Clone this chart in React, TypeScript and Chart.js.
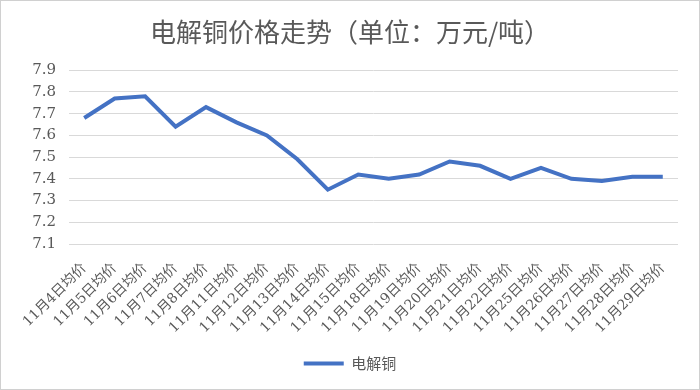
import React, { useEffect, useRef } from "react";
import { Chart, registerables } from "chart.js";

Chart.register(...registerables);

const categories = [
  "11月4日均价", "11月5日均价", "11月6日均价", "11月7日均价", "11月8日均价",
  "11月11日均价", "11月12日均价", "11月13日均价", "11月14日均价", "11月15日均价",
  "11月18日均价", "11月19日均价", "11月20日均价", "11月21日均价", "11月22日均价",
  "11月25日均价", "11月26日均价", "11月27日均价", "11月28日均价", "11月29日均价",
];
const prices = [
  7.68, 7.77, 7.78, 7.64, 7.73, 7.66, 7.60, 7.49, 7.35, 7.42,
  7.40, 7.42, 7.48, 7.46, 7.40, 7.45, 7.40, 7.39, 7.41, 7.41,
];
const seriesName = "电解铜";
const titleText = "电解铜价格走势（单位：万元/吨）";
const yMin = 7.1;
const yMax = 7.9;
const yStep = 0.1;

const FONT = "'DejaVu Serif', 'Noto Sans CJK SC', serif";
const TEXT = "#595959";

export default function App() {
  const ref = useRef<HTMLCanvasElement | null>(null);
  useEffect(() => {
    document.body.style.margin = "0";
    if (!ref.current) return;
    const chart = new Chart(ref.current, {
      type: "line",
      data: {
        labels: categories,
        datasets: [
          {
            label: seriesName,
            data: prices,
            borderColor: "#4472C4",
            backgroundColor: "#4472C4",
            borderWidth: 4,
            pointRadius: 0,
            pointStyle: "line",
            tension: 0,
          },
        ],
      },
      options: {
        responsive: false,
        animation: false,
        layout: { padding: { left: 0, right: 0, top: 0, bottom: 8 } },
        plugins: {
          title: {
            display: true,
            text: titleText,
            color: TEXT,
            font: { family: "'Noto Sans CJK SC', sans-serif", size: 26, weight: "normal" },
            padding: { top: 16, bottom: 22 },
          },
          legend: {
            display: true,
            position: "bottom",
            labels: {
              color: TEXT,
              font: { family: "'Noto Sans CJK SC', sans-serif", size: 15 },
              usePointStyle: true,
              pointStyle: "line",
              pointStyleWidth: 40,
              padding: 12,
            },
          },
          tooltip: { enabled: false },
        },
        scales: {
          x: {
            offset: true,
            grid: { display: false, drawTicks: false },
            border: { display: false },
            ticks: {
              color: TEXT,
              font: { family: FONT, size: 14 },
              minRotation: 45,
              maxRotation: 45,
              autoSkip: false,
              padding: 16,
            },
            afterFit: (scale: any) => {
              scale.height = 100;
              scale.paddingRight = 21;
            },
          },
          y: {
            min: yMin,
            max: yMax,
            grid: { color: "#d9d9d9", lineWidth: 1, drawTicks: false },
            border: { display: false },
            ticks: {
              stepSize: yStep,
              color: TEXT,
              font: { family: FONT, size: 15 },
              padding: 13,
              callback: (v: any) => Number(v).toFixed(1),
            },
            afterFit: (scale: any) => {
              scale.width = 68;
            },
          },
        },
      },
    });
    return () => chart.destroy();
  }, []);
  return (
    <div
      style={{
        position: "absolute",
        left: 0,
        top: 0,
        width: 700,
        height: 390,
        boxSizing: "border-box",
        border: "1px solid #d0d0d0",
        background: "#fff",
      }}
    >
      <canvas ref={ref} width={698} height={388} style={{ display: "block" }} />
    </div>
  );
}
